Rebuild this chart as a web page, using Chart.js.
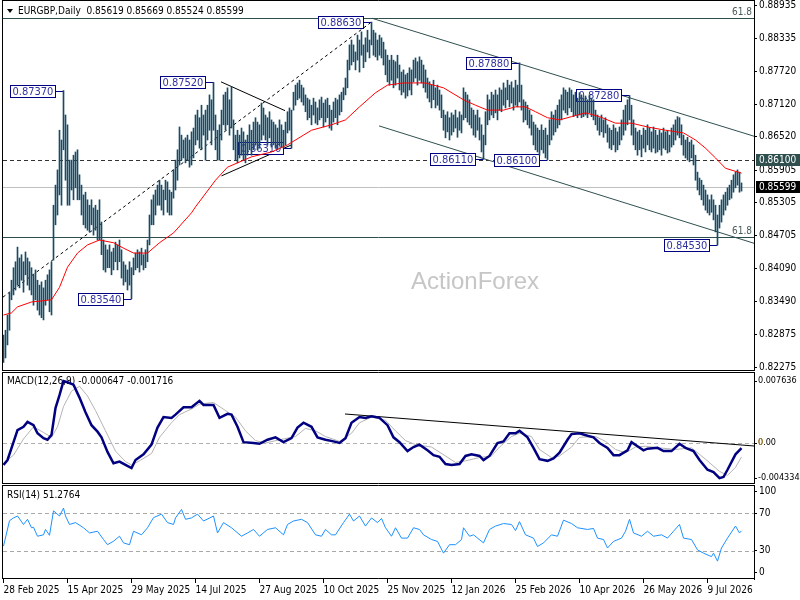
<!DOCTYPE html>
<html>
<head>
<meta charset="utf-8">
<title>EURGBP Daily</title>
<script src="https://cdn.jsdelivr.net/npm/chart.js@4.4.1/dist/chart.umd.min.js"></script>
<style>
  html, body { margin: 0; padding: 0; background: #fff; }
  body { width: 800px; height: 600px; position: relative; overflow: hidden; }
  canvas { position: absolute; left: 0; }
  #priceChart { top: 0; }
  #macdChart { top: 372px; }
  #rsiChart { top: 485px; }
</style>
</head>
<body>
<canvas id="priceChart" width="800" height="371"></canvas>
<canvas id="macdChart" width="800" height="112"></canvas>
<canvas id="rsiChart" width="800" height="115"></canvas>
<script>
// ================================================================
// DATA  (one bar per trading day, index 0 = 28 Feb 2025)
// ================================================================
const dateLabels = ['28 Feb 2025', '15 Apr 2025', '29 May 2025', '14 Jul 2025', '27 Aug 2025', '10 Oct 2025',
                    '25 Nov 2025', '12 Jan 2026', '25 Feb 2026', '10 Apr 2026', '26 May 2026', '9 Jul 2026'];
const dateIdx = [0, 32, 64, 96, 128, 160, 192, 224, 256, 288, 320, 352];

const priceTicks = [0.88935, 0.88335, 0.87720, 0.87120, 0.86520, 0.85905, 0.85305, 0.84705, 0.84090, 0.83490, 0.82875, 0.82275];
const macdTicks = [0.007636, 0, -0.004334];
const macdTickText = ['0.007636', '0.00', '-0.004334'];
const rsiTickText = ['100', '70', '30', '0'];

const barHigh = [
  0.8287,0.8296,0.8324,0.8365,0.8388,0.8411,0.8422,0.8449,0.8429,0.8435,
  0.8422,0.8440,0.8429,0.8422,0.8411,0.8398,0.8407,0.8388,0.8379,0.8385,
  0.8374,0.8388,0.8398,0.8407,0.8422,0.8526,0.8563,0.8591,0.8664,0.8646,
  0.8737,0.8692,0.8674,0.8609,0.8609,0.8618,0.8624,0.8628,0.8582,0.8563,
  0.8545,0.8550,0.8536,0.8526,0.8536,0.8521,0.8526,0.8517,0.8536,0.8495,
  0.8462,0.8453,0.8444,0.8453,0.8440,0.8447,0.8458,0.8453,0.8462,0.8444,
  0.8422,0.8416,0.8407,0.8422,0.8411,0.8429,0.8438,0.8444,0.8440,0.8447,
  0.8435,0.8444,0.8462,0.8508,0.8536,0.8545,0.8554,0.8563,0.8572,0.8563,
  0.8554,0.8572,0.8569,0.8554,0.8550,0.8591,0.8609,0.8628,0.8670,0.8655,
  0.8646,0.8650,0.8655,0.8646,0.8661,0.8668,0.8692,0.8701,0.8687,0.8710,
  0.8692,0.8701,0.8710,0.8729,0.8720,0.8752,0.8692,0.8664,0.8674,0.8701,
  0.8729,0.8734,0.8742,0.8720,0.8744,0.8683,0.8655,0.8664,0.8655,0.8668,
  0.8661,0.8646,0.8655,0.8674,0.8664,0.8679,0.8687,0.8679,0.8674,0.8714,
  0.8705,0.8692,0.8687,0.8698,0.8683,0.8679,0.8674,0.8668,0.8683,0.8674,
  0.8664,0.8679,0.8698,0.8705,0.8701,0.8734,0.8747,0.8751,0.8756,0.8747,
  0.8742,0.8729,0.8723,0.8720,0.8710,0.8723,0.8716,0.8705,0.8720,0.8725,
  0.8714,0.8720,0.8723,0.8710,0.8701,0.8716,0.8723,0.8720,0.8729,0.8734,
  0.8742,0.8760,0.8793,0.8821,0.8830,0.8821,0.8808,0.8839,0.8830,0.8845,
  0.8821,0.8834,0.8848,0.8830,0.8863,0.8848,0.8843,0.8830,0.8839,0.8834,
  0.8826,0.8812,0.8802,0.8793,0.8802,0.8793,0.8790,0.8802,0.8784,0.8771,
  0.8775,0.8766,0.8769,0.8779,0.8775,0.8793,0.8797,0.8790,0.8799,0.8793,
  0.8784,0.8775,0.8760,0.8753,0.8747,0.8756,0.8742,0.8747,0.8738,0.8729,
  0.8701,0.8692,0.8698,0.8687,0.8696,0.8692,0.8701,0.8687,0.8698,0.8692,
  0.8742,0.8734,0.8729,0.8720,0.8705,0.8701,0.8692,0.8701,0.8687,0.8674,
  0.8655,0.8698,0.8729,0.8720,0.8734,0.8729,0.8738,0.8729,0.8742,0.8738,
  0.8751,0.8742,0.8756,0.8747,0.8753,0.8742,0.8756,0.8747,0.8788,0.8747,
  0.8720,0.8716,0.8710,0.8701,0.8692,0.8679,0.8674,0.8668,0.8664,0.8674,
  0.8664,0.8668,0.8655,0.8683,0.8698,0.8692,0.8701,0.8710,0.8720,0.8729,
  0.8742,0.8738,0.8734,0.8742,0.8738,0.8729,0.8734,0.8723,0.8733,0.8729,
  0.8723,0.8727,0.8720,0.8729,0.8723,0.8720,0.8701,0.8692,0.8687,0.8692,
  0.8683,0.8687,0.8674,0.8668,0.8664,0.8674,0.8668,0.8661,0.8670,0.8683,
  0.8701,0.8710,0.8720,0.8728,0.8710,0.8683,0.8668,0.8661,0.8664,0.8655,
  0.8668,0.8664,0.8674,0.8668,0.8661,0.8670,0.8664,0.8655,0.8664,0.8659,
  0.8668,0.8661,0.8664,0.8655,0.8668,0.8674,0.8683,0.8689,0.8687,0.8674,
  0.8655,0.8646,0.8651,0.8642,0.8646,0.8637,0.8618,0.8587,0.8576,0.8572,
  0.8563,0.8554,0.8545,0.8536,0.8545,0.8536,0.8526,0.8508,0.8526,0.8536,
  0.8545,0.8550,0.8558,0.8563,0.8572,0.8582,0.8587,0.8591,0.8587,0.8567
];
const barLow = [
  0.8237,0.8245,0.8269,0.8296,0.8352,0.8361,0.8370,0.8379,0.8374,0.8388,
  0.8366,0.8398,0.8379,0.8370,0.8361,0.8342,0.8352,0.8333,0.8324,0.8319,
  0.8315,0.8342,0.8352,0.8330,0.8324,0.8425,0.8490,0.8508,0.8545,0.8526,
  0.8628,0.8572,0.8526,0.8526,0.8554,0.8536,0.8558,0.8536,0.8536,0.8508,
  0.8490,0.8484,0.8480,0.8477,0.8490,0.8471,0.8480,0.8462,0.8462,0.8435,
  0.8407,0.8403,0.8411,0.8411,0.8398,0.8407,0.8422,0.8407,0.8422,0.8392,
  0.8379,0.8385,0.8370,0.8379,0.8354,0.8398,0.8407,0.8411,0.8403,0.8416,
  0.8407,0.8411,0.8422,0.8453,0.8490,0.8490,0.8508,0.8526,0.8526,0.8517,
  0.8508,0.8536,0.8513,0.8508,0.8508,0.8539,0.8554,0.8572,0.8600,0.8609,
  0.8613,0.8604,0.8609,0.8596,0.8600,0.8613,0.8637,0.8646,0.8631,0.8628,
  0.8655,0.8609,0.8646,0.8664,0.8637,0.8664,0.8628,0.8609,0.8609,0.8646,
  0.8674,0.8664,0.8674,0.8655,0.8668,0.8628,0.8609,0.8604,0.8613,0.8618,
  0.8609,0.8604,0.8618,0.8628,0.8618,0.8628,0.8637,0.8628,0.8631,0.8646,
  0.8655,0.8646,0.8637,0.8650,0.8633,0.8637,0.8631,0.8628,0.8637,0.8633,
  0.8631,0.8637,0.8659,0.8664,0.8631,0.8701,0.8710,0.8720,0.8723,0.8716,
  0.8710,0.8698,0.8683,0.8687,0.8674,0.8692,0.8677,0.8674,0.8683,0.8687,
  0.8670,0.8679,0.8687,0.8668,0.8664,0.8679,0.8687,0.8674,0.8692,0.8698,
  0.8720,0.8729,0.8742,0.8775,0.8784,0.8790,0.8775,0.8793,0.8771,0.8802,
  0.8779,0.8790,0.8808,0.8797,0.8821,0.8802,0.8799,0.8793,0.8802,0.8797,
  0.8784,0.8766,0.8753,0.8747,0.8756,0.8742,0.8747,0.8760,0.8738,0.8729,
  0.8734,0.8723,0.8727,0.8738,0.8729,0.8753,0.8760,0.8747,0.8756,0.8751,
  0.8742,0.8734,0.8723,0.8716,0.8705,0.8720,0.8705,0.8710,0.8701,0.8687,
  0.8664,0.8650,0.8661,0.8646,0.8655,0.8661,0.8668,0.8651,0.8664,0.8659,
  0.8683,0.8687,0.8679,0.8674,0.8668,0.8655,0.8651,0.8664,0.8646,0.8624,
  0.8611,0.8637,0.8674,0.8683,0.8692,0.8687,0.8696,0.8683,0.8701,0.8698,
  0.8710,0.8705,0.8720,0.8707,0.8714,0.8701,0.8710,0.8707,0.8716,0.8701,
  0.8679,0.8683,0.8674,0.8668,0.8655,0.8637,0.8628,0.8624,0.8618,0.8628,
  0.8622,0.8613,0.8610,0.8637,0.8646,0.8655,0.8661,0.8668,0.8674,0.8683,
  0.8701,0.8696,0.8692,0.8705,0.8698,0.8689,0.8692,0.8687,0.8692,0.8687,
  0.8689,0.8692,0.8687,0.8696,0.8689,0.8683,0.8674,0.8664,0.8655,0.8661,
  0.8651,0.8659,0.8642,0.8631,0.8628,0.8637,0.8624,0.8628,0.8637,0.8646,
  0.8655,0.8664,0.8674,0.8683,0.8655,0.8637,0.8628,0.8618,0.8628,0.8615,
  0.8631,0.8624,0.8637,0.8628,0.8624,0.8631,0.8622,0.8624,0.8628,0.8618,
  0.8631,0.8628,0.8622,0.8624,0.8633,0.8637,0.8646,0.8655,0.8650,0.8637,
  0.8618,0.8613,0.8609,0.8606,0.8613,0.8600,0.8572,0.8554,0.8545,0.8536,
  0.8526,0.8517,0.8512,0.8508,0.8513,0.8499,0.8477,0.8453,0.8484,0.8495,
  0.8508,0.8517,0.8526,0.8536,0.8539,0.8550,0.8558,0.8563,0.8550,0.8552
];

// moving average, sampled [bar index, price]
const maLine = [
  [0,0.8324],[4,0.8328],[7,0.8339],[14,0.8348],[24,0.8352],[28,0.8375],[32,0.8412],[37,0.8438],[42,0.8453],
  [48,0.8462],[55,0.8457],[60,0.8447],[65,0.8438],[72,0.8438],[78,0.8457],[85,0.8475],[94,0.8512],[96,0.8523],
  [106,0.8572],[112,0.8596],[124,0.8615],[134,0.8624],[142,0.8637],[154,0.8664],[164,0.8674],[171,0.8683],
  [178,0.8707],[186,0.8733],[192,0.8747],[200,0.8751],[211,0.8751],[220,0.8742],[230,0.8720],[236,0.8710],
  [242,0.8701],[250,0.8701],[256,0.8707],[261,0.8707],[266,0.8698],[272,0.8687],[278,0.8683],[284,0.8689],
  [291,0.8696],[298,0.8689],[306,0.8677],[314,0.8677],[322,0.8670],[331,0.8664],[340,0.8659],[346,0.8646],
  [351,0.8631],[356,0.8613],[361,0.8594],[369,0.8585]
];

// MACD main and signal, sampled [bar index, value]
const macdLine = [
  [0,-0.0027],[2,-0.0021],[5,0.0001],[7,0.0016],[10,0.0020],[12,0.0026],[15,0.0022],[17,0.0012],[20,0.0006],
  [22,0.0004],[24,0.0010],[26,0.0043],[28,0.0059],[30,0.007636],[32,0.0075],[35,0.0072],[38,0.0056],[41,0.0038],
  [44,0.0022],[47,0.0014],[49,0.0007],[52,-0.0011],[55,-0.0025],[58,-0.0023],[61,-0.0027],[64,-0.0031],
  [66,-0.0021],[70,-0.0014],[74,-0.0002],[77,0.0019],[80,0.0032],[84,0.0031],[86,0.0035],[90,0.0044],[94,0.0044],
  [98,0.0052],[100,0.0047],[105,0.0047],[108,0.0031],[112,0.0036],[114,0.0035],[117,0.0020],[120,0.0001],
  [125,0.0000],[128,-0.0001],[132,0.0004],[136,0.0007],[140,0.0001],[144,0.0006],[147,0.0019],[150,0.0025],
  [154,0.0020],[157,0.0007],[161,0.0004],[165,0.0002],[168,0.0000],[171,0.0006],[174,0.0025],[178,0.0032],
  [181,0.0031],[184,0.0033],[188,0.0031],[192,0.0022],[195,0.0007],[198,0.0001],[202,-0.0010],[205,-0.0005],
  [208,-0.0002],[212,-0.0009],[215,-0.0015],[218,-0.0017],[221,-0.0026],[224,-0.0027],[228,-0.0026],[231,-0.0016],
  [234,-0.0014],[238,-0.0016],[240,-0.0021],[243,-0.0016],[247,0.0000],[250,0.0002],[253,0.0012],[256,0.0012],
  [258,0.0015],[262,0.0007],[265,-0.0006],[268,-0.0020],[272,-0.0022],[275,-0.0019],[278,-0.0012],[282,0.0004],
  [284,0.0011],[288,0.0012],[292,0.0009],[295,0.0007],[298,0.0000],[302,-0.0006],[305,-0.0015],[308,-0.0015],
  [312,-0.0009],[314,0.0001],[317,-0.0004],[320,-0.0009],[322,-0.0007],[327,-0.0006],[330,-0.0010],[334,-0.0010],
  [338,-0.0001],[341,-0.0006],[345,-0.0010],[348,-0.0021],[352,-0.0033],[355,-0.0036],[358,-0.004334],
  [360,-0.0042],[362,-0.0033],[366,-0.0014],[369,-0.000647]
];
const signalLine = [
  [0,-0.0025],[5,-0.0015],[10,0.0005],[15,0.0020],[20,0.0013],[24,0.0007],[27,0.0020],[30,0.0045],[34,0.0064],
  [38,0.0070],[42,0.0058],[46,0.0040],[51,0.0015],[56,-0.0010],[61,-0.0023],[64,-0.0027],[68,-0.0022],[74,-0.0013],
  [78,0.0007],[84,0.0025],[88,0.0035],[94,0.0042],[98,0.0048],[105,0.0050],[111,0.0040],[116,0.0032],[121,0.0015],
  [126,0.0003],[131,0.0000],[138,0.0004],[146,0.0008],[151,0.0018],[156,0.0015],[161,0.0008],[168,0.0002],
  [174,0.0012],[178,0.0025],[184,0.0032],[191,0.0028],[196,0.0015],[201,0.0003],[206,-0.0002],[214,-0.0005],
  [221,-0.0016],[226,-0.0024],[231,-0.0022],[238,-0.0018],[244,-0.0016],[248,-0.0005],[254,0.0008],[258,0.0012],
  [264,0.0008],[268,-0.0008],[274,-0.0018],[278,-0.0016],[284,-0.0005],[288,0.0007],[296,0.0008],[301,0.0002],
  [306,-0.0008],[311,-0.0012],[316,-0.0005],[321,-0.0004],[328,-0.0006],[336,-0.0008],[344,-0.0006],[351,-0.0020],
  [358,-0.0035],[362,-0.0040],[366,-0.0030],[369,-0.001716]
];

// RSI(14), sampled [bar index, value]
const rsiLine = [
  [0,35],[3,62],[5,65],[7,67],[10,58],[12,63.5],[14,54.5],[15,55],[17,45.5],[20,47],[21,52.7],[23,46.5],[25,72.5],
  [28,67],[30,75.4],[31,67],[33,58],[36,60],[40,54.5],[43,49],[47,50.8],[50,42],[52,36.5],[55,40.2],[58,45.5],
  [60,38.4],[63,36.5],[65,50.8],[69,47],[72,54.5],[75,65.3],[79,69],[82,60],[85,58],[86,65],[89,74],[91,63.5],
  [94,65],[97,69],[100,61.7],[105,67],[107,49],[110,60],[114,54.5],[119,45.5],[122,49],[125,52.7],[128,45.5],
  [132,52.7],[136,54.5],[140,47],[142,58],[145,61.7],[149,63.5],[152,60],[156,47],[159,45.5],[161,52.7],[164,47],
  [166,47],[170,60],[173,69],[175,61.7],[178,67],[181,56.3],[184,65],[187,60],[189,64.4],[191,54.5],[194,45.5],
  [196,54.5],[199,43.5],[202,43.5],[205,54.5],[208,52.7],[210,47],[214,42],[217,40],[220,27.5],[223,36.5],
  [226,36.5],[229,42],[230,54.5],[233,45.5],[235,47],[240,38.4],[243,52.7],[246,56.3],[250,59],[254,58],
  [256,51.5],[258,61],[261,47],[265,43.5],[267,34.6],[270,38.4],[274,47],[277,45.5],[280,62.6],[284,59],
  [287,54.5],[292,52.7],[295,53.8],[297,43.5],[300,42],[302,33],[305,40],[309,43.5],[311,50.8],[313,63.5],
  [315,49],[319,45.5],[322,50.8],[325,45.5],[329,47],[332,43.5],[335,50.8],[338,58],[340,43.5],[344,42],
  [347,31],[350,27.5],[354,23.8],[355,27.5],[357,19],[359,33],[362,43.5],[366,56.3],[368,49],[369,51.2764]
];

// swing highs / lows that carry a price tag [bar index, price]
const swingPoints = [[30,0.8737],[64,0.8354],[105,0.8752],[144,0.8631],[184,0.8863],[240,0.8611],
                     [258,0.8788],[272,0.8610],[313,0.8728],[357,0.8453]];

// drawn objects [index0, price0, index1, price1]
const dottedTrend = [-0.25, 0.8357, 183.25, 0.8861];
const triangleLines = [[108.75, 0.8753, 140.75, 0.8700], [109, 0.8580, 144, 0.8637]];
const channelLines = [[184.25, 0.8870, 375.25, 0.8653], [187.75, 0.8672, 375.25, 0.8456]];
const macdTrend = [170.75, 0.00358, 375.25, -0.00037];
const fibLevels = [0.8870, 0.8468];
const supportLevel = 0.8610;
const bidPrice = 0.85599;
const ohlc = [0.85619, 0.85669, 0.85524, 0.85599];

// ================================================================
// SHARED SETUP
// ================================================================
const FONT = "'DejaVu Sans Condensed', 'Liberation Sans', sans-serif";
Chart.defaults.font.family = FONT;
Chart.defaults.font.size = 10;
Chart.defaults.color = '#000';

const X_MIN = -0.25, X_MAX = 375.25;
const PRICE_MIN = 0.82210, PRICE_MAX = 0.89036;
const MACD_MIN = -0.005059, MACD_MAX = 0.008761;

function xAxis(show) {
    const ax = {
        type: 'linear', min: X_MIN, max: X_MAX, offset: false, display: show,
        grid: { display: show, drawOnChartArea: false, tickLength: 4, color: '#000', offset: false },
        border: { display: false },
        afterBuildTicks: s => { s.ticks = dateIdx.map(v => ({ value: v })); },
        ticks: { autoSkip: false, maxRotation: 0, minRotation: 0, align: 'start', padding: 1, callback: (v, i) => dateLabels[i] }
    };
    if (show) ax.afterFit = s => { s.height = 21; s.paddingLeft = 0; s.paddingRight = 0; };
    return ax;
}

function yAxis(min, max, tickVals, tickText, fontSize) {
    return {
        type: 'linear', position: 'right', min, max,
        grid: { drawOnChartArea: false, tickLength: 3, color: '#000' },
        border: { display: true, color: '#000' },
        afterBuildTicks: s => { s.ticks = tickVals.map(v => ({ value: v })); },
        afterFit: s => { s.width = 46; s.paddingTop = 0; s.paddingBottom = 0; },
        ticks: { autoSkip: false, padding: fontSize ? 1 : 2, font: { size: fontSize || 10 }, callback: (v, i) => tickText[i] }
    };
}

const baseOptions = {
    responsive: false, animation: false, events: [],
    layout: { padding: { left: 3, right: 0, top: 0, bottom: 0 } },
    plugins: { legend: { display: false }, tooltip: { enabled: false } }
};

const pts = arr => arr.map(([x, y]) => ({ x, y }));

function drawFrame(ctx, a) {
    ctx.save();
    ctx.strokeStyle = '#000'; ctx.lineWidth = 1;
    ctx.beginPath();
    ctx.moveTo(a.left - 0.5, a.top + 0.5);    ctx.lineTo(a.right, a.top + 0.5);
    ctx.moveTo(a.left - 0.5, a.top);          ctx.lineTo(a.left - 0.5, a.bottom);
    ctx.moveTo(a.left - 0.5, a.bottom - 0.5); ctx.lineTo(a.right, a.bottom - 0.5);
    ctx.stroke();
    ctx.restore();
}

function segment(ctx, x, y, [i0, v0, i1, v1], color, dash) {
    ctx.strokeStyle = color; ctx.setLineDash(dash || []);
    ctx.beginPath();
    ctx.moveTo(x.getPixelForValue(i0), y.getPixelForValue(v0));
    ctx.lineTo(x.getPixelForValue(i1), y.getPixelForValue(v1));
    ctx.stroke();
    ctx.setLineDash([]);
}

function levelLine(ctx, a, y, v, color, dash) {
    const py = Math.round(y.getPixelForValue(v)) + 0.5;
    ctx.strokeStyle = color; ctx.setLineDash(dash || []);
    ctx.beginPath(); ctx.moveTo(a.left, py); ctx.lineTo(a.right, py); ctx.stroke();
    ctx.setLineDash([]);
}

function clipArea(ctx, a) {
    ctx.beginPath(); ctx.rect(a.left, a.top, a.right - a.left, a.bottom - a.top); ctx.clip();
}

// ================================================================
// PRICE PANEL
// ================================================================
const pricePaint = {
    id: 'pricePaint',
    beforeDatasetsDraw(chart) {
        const { ctx, chartArea: a, scales: { x, y } } = chart;
        ctx.save();
        clipArea(ctx, a);
        ctx.lineWidth = 1;

        ctx.font = "24px 'Liberation Sans', Arial, sans-serif";
        ctx.fillStyle = '#c6c6c6'; ctx.textAlign = 'center'; ctx.textBaseline = 'middle';
        ctx.fillText('ActionForex', 475, 282);

        fibLevels.forEach(v => levelLine(ctx, a, y, v, '#2f4f4f'));
        levelLine(ctx, a, y, supportLevel, '#333', [4, 3]);
        levelLine(ctx, a, y, bidPrice, '#c0c0c0');

        segment(ctx, x, y, dottedTrend, '#000', [3, 3]);
        triangleLines.forEach(l => segment(ctx, x, y, l, '#000'));
        channelLines.forEach(l => segment(ctx, x, y, l, '#2f4f4f'));

        ctx.font = '11px ' + FONT; ctx.textAlign = 'left'; ctx.textBaseline = 'middle';
        swingPoints.forEach(([idx, p]) => {
            const txt = p.toFixed(5);
            const px = x.getPixelForValue(idx), py = Math.round(y.getPixelForValue(p)) + 0.5;
            const w = Math.ceil(ctx.measureText(txt).width) + 4;
            const r = Math.round(px) - 9 + 0.5;
            ctx.strokeStyle = '#000080';
            ctx.beginPath(); ctx.moveTo(r, py); ctx.lineTo(px, py); ctx.stroke();
            ctx.fillStyle = '#fff'; ctx.fillRect(r - w, py - 6, w, 12);
            ctx.strokeRect(r - w, py - 6, w, 12);
            ctx.fillStyle = '#3030a0'; ctx.fillText(txt, r - w + 2, py + 0.5);
        });
        ctx.restore();
    },
    afterDraw(chart) {
        const { ctx, chartArea: a, scales: { y } } = chart;
        drawFrame(ctx, a);
        ctx.save();
        ctx.font = '10px ' + FONT; ctx.textBaseline = 'middle'; ctx.textAlign = 'left';
        [[supportLevel, '#2f4f4f'], [bidPrice, '#000']].forEach(([v, bg]) => {
            const py = Math.round(y.getPixelForValue(v));
            ctx.fillStyle = bg; ctx.fillRect(a.right + 2, py - 6, 44, 12);
            ctx.fillStyle = '#fff'; ctx.fillText(v.toFixed(5), a.right + 5, py);
        });

        ctx.fillStyle = '#4a5a5a'; ctx.textAlign = 'right'; ctx.textBaseline = 'bottom';
        fibLevels.forEach(v => ctx.fillText('61.8', a.right - 2, Math.round(y.getPixelForValue(v)) - 1));

        ctx.fillStyle = '#000';
        ctx.beginPath(); ctx.moveTo(7, 9); ctx.lineTo(13, 9); ctx.lineTo(10, 13); ctx.closePath(); ctx.fill();
        ctx.textAlign = 'left'; ctx.textBaseline = 'middle';
        ctx.fillText('EURGBP,Daily  ' + ohlc.map(v => v.toFixed(5)).join(' '), 18, 11);
        ctx.restore();
    }
};

new Chart(document.getElementById('priceChart'), {
    type: 'bar',
    data: {
        datasets: [
            { type: 'line', data: pts(maLine), borderColor: '#ff0000', borderWidth: 1, pointRadius: 0, order: 0 },
            { type: 'bar', data: barHigh.map((h, i) => ({ x: i, y: [barLow[i], h] })),
              backgroundColor: '#1a4b64', barThickness: 1, borderWidth: 0, borderSkipped: false, order: 1 }
        ]
    },
    options: {
        ...baseOptions,
        scales: {
            x: xAxis(false),
            y: yAxis(PRICE_MIN, PRICE_MAX, priceTicks, priceTicks.map(v => v.toFixed(5)))
        }
    },
    plugins: [pricePaint]
});

// ================================================================
// MACD PANEL
// ================================================================
const macdPaint = {
    id: 'macdPaint',
    beforeDatasetsDraw(chart) {
        const { ctx, chartArea: a, scales: { x, y } } = chart;
        ctx.save();
        clipArea(ctx, a);
        ctx.lineWidth = 1;
        levelLine(ctx, a, y, 0, '#b0b0b0', [4, 3]);
        segment(ctx, x, y, macdTrend, '#000');
        ctx.fillStyle = '#000'; ctx.font = '10px ' + FONT; ctx.textBaseline = 'middle'; ctx.textAlign = 'left';
        const last = macdLine[macdLine.length - 1][1], lastSig = signalLine[signalLine.length - 1][1];
        ctx.fillText('MACD(12,26,9) ' + last.toFixed(6) + ' ' + lastSig.toFixed(6), 7, 9);
        ctx.restore();
    },
    afterDraw(chart) {
        const { ctx, chartArea: a, scales: { y } } = chart;
        drawFrame(ctx, a);
        // second zero tag of the signal line, slightly offset like the terminal does
        ctx.save();
        ctx.font = '9px ' + FONT; ctx.fillStyle = '#c89020'; ctx.textBaseline = 'middle'; ctx.textAlign = 'left';
        ctx.fillText('0', a.right + 4, Math.round(y.getPixelForValue(0)));
        ctx.restore();
    }
};

new Chart(document.getElementById('macdChart'), {
    type: 'line',
    data: {
        datasets: [
            { data: pts(signalLine), borderColor: '#b4b4b4', borderWidth: 1, pointRadius: 0, order: 1 },
            { data: pts(macdLine), borderColor: '#000080', borderWidth: 2.5, pointRadius: 0, order: 0 }
        ]
    },
    options: {
        ...baseOptions,
        scales: { x: xAxis(false), y: yAxis(MACD_MIN, MACD_MAX, macdTicks, macdTickText, 9) }
    },
    plugins: [macdPaint]
});

// ================================================================
// RSI PANEL
// ================================================================
const rsiPaint = {
    id: 'rsiPaint',
    beforeDatasetsDraw(chart) {
        const { ctx, chartArea: a, scales: { y } } = chart;
        ctx.save();
        clipArea(ctx, a);
        ctx.lineWidth = 1;
        [70, 30].forEach(v => levelLine(ctx, a, y, v, '#a8a8a8', [4, 3]));
        ctx.fillStyle = '#000'; ctx.font = '10px ' + FONT; ctx.textBaseline = 'middle'; ctx.textAlign = 'left';
        ctx.fillText('RSI(14) ' + rsiLine[rsiLine.length - 1][1].toFixed(4), 7, 10);
        ctx.restore();
    },
    afterDraw(chart) { drawFrame(chart.ctx, chart.chartArea); }
};

const rsiY = yAxis(0, 100, [93, 70, 30, 7], rsiTickText);

new Chart(document.getElementById('rsiChart'), {
    type: 'line',
    data: {
        datasets: [
            { data: pts(rsiLine), borderColor: '#1e90ff', borderWidth: 1, pointRadius: 0 }
        ]
    },
    options: {
        ...baseOptions,
        scales: { x: xAxis(true), y: rsiY }
    },
    plugins: [rsiPaint]
});
</script>
</body>
</html>
